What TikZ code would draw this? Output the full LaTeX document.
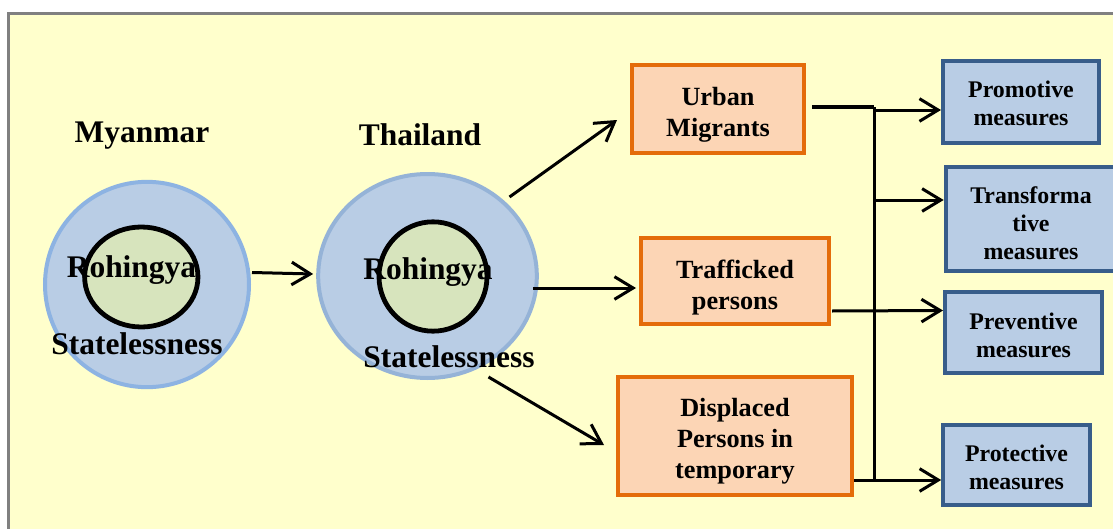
\documentclass[tikz,border=0pt]{standalone}
\usepackage{fontspec}
\setmainfont{Liberation Serif}
\usetikzlibrary{arrows.meta,calc,shapes.geometric}

\definecolor{bgyellow}{HTML}{FFFFCC}
\definecolor{framegray}{HTML}{808080}
\definecolor{ringfill}{HTML}{B9CDE5}
\definecolor{ringedgeA}{HTML}{8DB3E2}
\definecolor{ringedgeB}{HTML}{95B3D7}
\definecolor{corefill}{HTML}{D7E4BD}
\definecolor{orfill}{HTML}{FCD5B5}
\definecolor{oredge}{HTML}{E46C0A}
\definecolor{blfill}{HTML}{B9CDE5}
\definecolor{bledge}{HTML}{385D8A}

\tikzset{
  ring/.style={ellipse, fill=ringfill, line width=3pt, inner sep=0pt},
  core/.style={ellipse, fill=corefill, draw=black, line width=3.6pt, inner sep=0pt},
  bigtext/.style={font=\bfseries\fontsize{23.6}{28}\selectfont, inner sep=0pt, anchor=base},
  groupbox/.style={rectangle, fill=orfill, draw=oredge, line width=3pt, inner sep=0pt},
  grouptext/.style={align=center, inner sep=0pt, font=\bfseries\fontsize{19.7}{23.2}\selectfont},
  measurebox/.style={rectangle, fill=blfill, draw=bledge, line width=3pt, inner sep=0pt},
  measuretext/.style={align=center, inner sep=0pt, font=\bfseries\fontsize{17.9}{21}\selectfont},
  ln/.style={draw=black, line width=2.25pt},
  heavyln/.style={draw=black, line width=3.3pt},
  arr/.style={ln, -{Straight Barb[length=14pt,width=17pt,line width=2.25pt]}}
}

\begin{document}
\begin{tikzpicture}[x=0.75pt,y=-0.75pt]
  \useasboundingbox (0,0) rectangle (1113,528);
  \clip (0,0) rectangle (1113,528);

  % panel
  \fill[white] (0,0) rectangle (1113,528);
  \draw[draw=framegray, fill=bgyellow, line width=2.25pt] (8,13.5) rectangle (1130,545);

  % Myanmar
  \node[ring, draw=ringedgeA, minimum width=153pt, minimum height=154pt] (mo) at (147,284.5) {};
  \node[core, minimum width=85pt, minimum height=75pt] (mi) at (141.3,277) {};
  \node[bigtext] (mtitle) at (142,142) {Myanmar};
  \node[bigtext] (mroh) at (131.5,277) {Rohingya};
  \node[bigtext] (mstate) at (137,354) {Statelessness};

  % Thailand
  \node[ring, draw=ringedgeB, minimum width=164pt, minimum height=153pt] (to) at (427.5,276) {};
  \node[core, minimum width=81pt, minimum height=82pt] (ti) at (433,276.5) {};
  \node[bigtext] (ttitle) at (420,145) {Thailand};
  \node[bigtext] (troh) at (428,279) {Rohingya};
  \node[bigtext] (tstate) at (449,367) {Statelessness};

  % groups
  \node[groupbox, minimum width=129pt, minimum height=66pt] (urban) at (718,109) {};
  \node[grouptext] (urbant) at ($(urban.center)+(0,6)$) {Urban\\Migrants};
  \node[groupbox, minimum width=141pt, minimum height=64.5pt] (traff) at (735,281) {};
  \node[grouptext] (trafft) at ($(traff.center)+(0,7)$) {Trafficked\\persons};
  \node[groupbox, minimum width=175.5pt, minimum height=88.5pt] (displ) at (735,436) {};
  \node[grouptext] (displt) at ($(displ.center)+(0,5)$) {Displaced\\Persons in\\temporary};

  % measures
  \node[measurebox, minimum width=117pt, minimum height=61.5pt] (promo) at (1021,102) {};
  \node[measuretext] (promot) at ($(promo.center)+(0,1.5)$) {Promotive\\measures};
  \node[measurebox, minimum width=128pt, minimum height=78pt] (transf) at (1031,219) {};
  \node[measuretext] (transft) at ($(transf.center)+(0,4)$) {Transforma\\tive\\measures};
  \node[measurebox, minimum width=117.75pt, minimum height=60.75pt] (prev) at (1023.5,332.5) {};
  \node[measuretext] (prevt) at ($(prev.center)+(0,3)$) {Preventive\\measures};
  \node[measurebox, minimum width=110pt, minimum height=60pt] (prot) at (1016.5,465) {};
  \node[measuretext] (prott) at ($(prot.center)+(0,2)$) {Protective\\measures};

  % Myanmar to Thailand
  \draw[arr] ($(mo.east)+(1,-12)$) -- ($(to.west)+(-3,-2)$);

  % Thailand to the groups
  \draw[arr] ($(to.center)+(82,-79)$) -- ($(urban.west)+(-13,11)$);
  \draw[arr] ($(to.east)+(-6,12)$) -- ($(traff.west)+(-3,7)$);
  \draw[arr] ($(to.center)+(61,101)$) -- ($(displ.west)+(-12,9)$);

  % groups to the measures
  \coordinate (bustop) at (874,107);
  \coordinate (busbot) at (874,480);
  \coordinate (promoin) at ($(promo.west)+(0,8)$);
  \coordinate (transfin) at ($(transf.west)+(0,-19)$);
  \draw[heavyln] ($(urban.east)+(6,-2)$) -- (bustop);
  \draw[ln] (bustop) -- (busbot);
  \draw[arr] (bustop |- promoin) -- (promoin);
  \draw[arr] (bustop |- transfin) -- (transfin);
  \draw[arr] ($(traff.east)+(1,30)$) -- ($(prev.west)+(0,-22)$);
  \draw[arr] ($(displ.east)+(0,44)$) -- ($(prot.west)+(0,15)$);
\end{tikzpicture}
\end{document}
